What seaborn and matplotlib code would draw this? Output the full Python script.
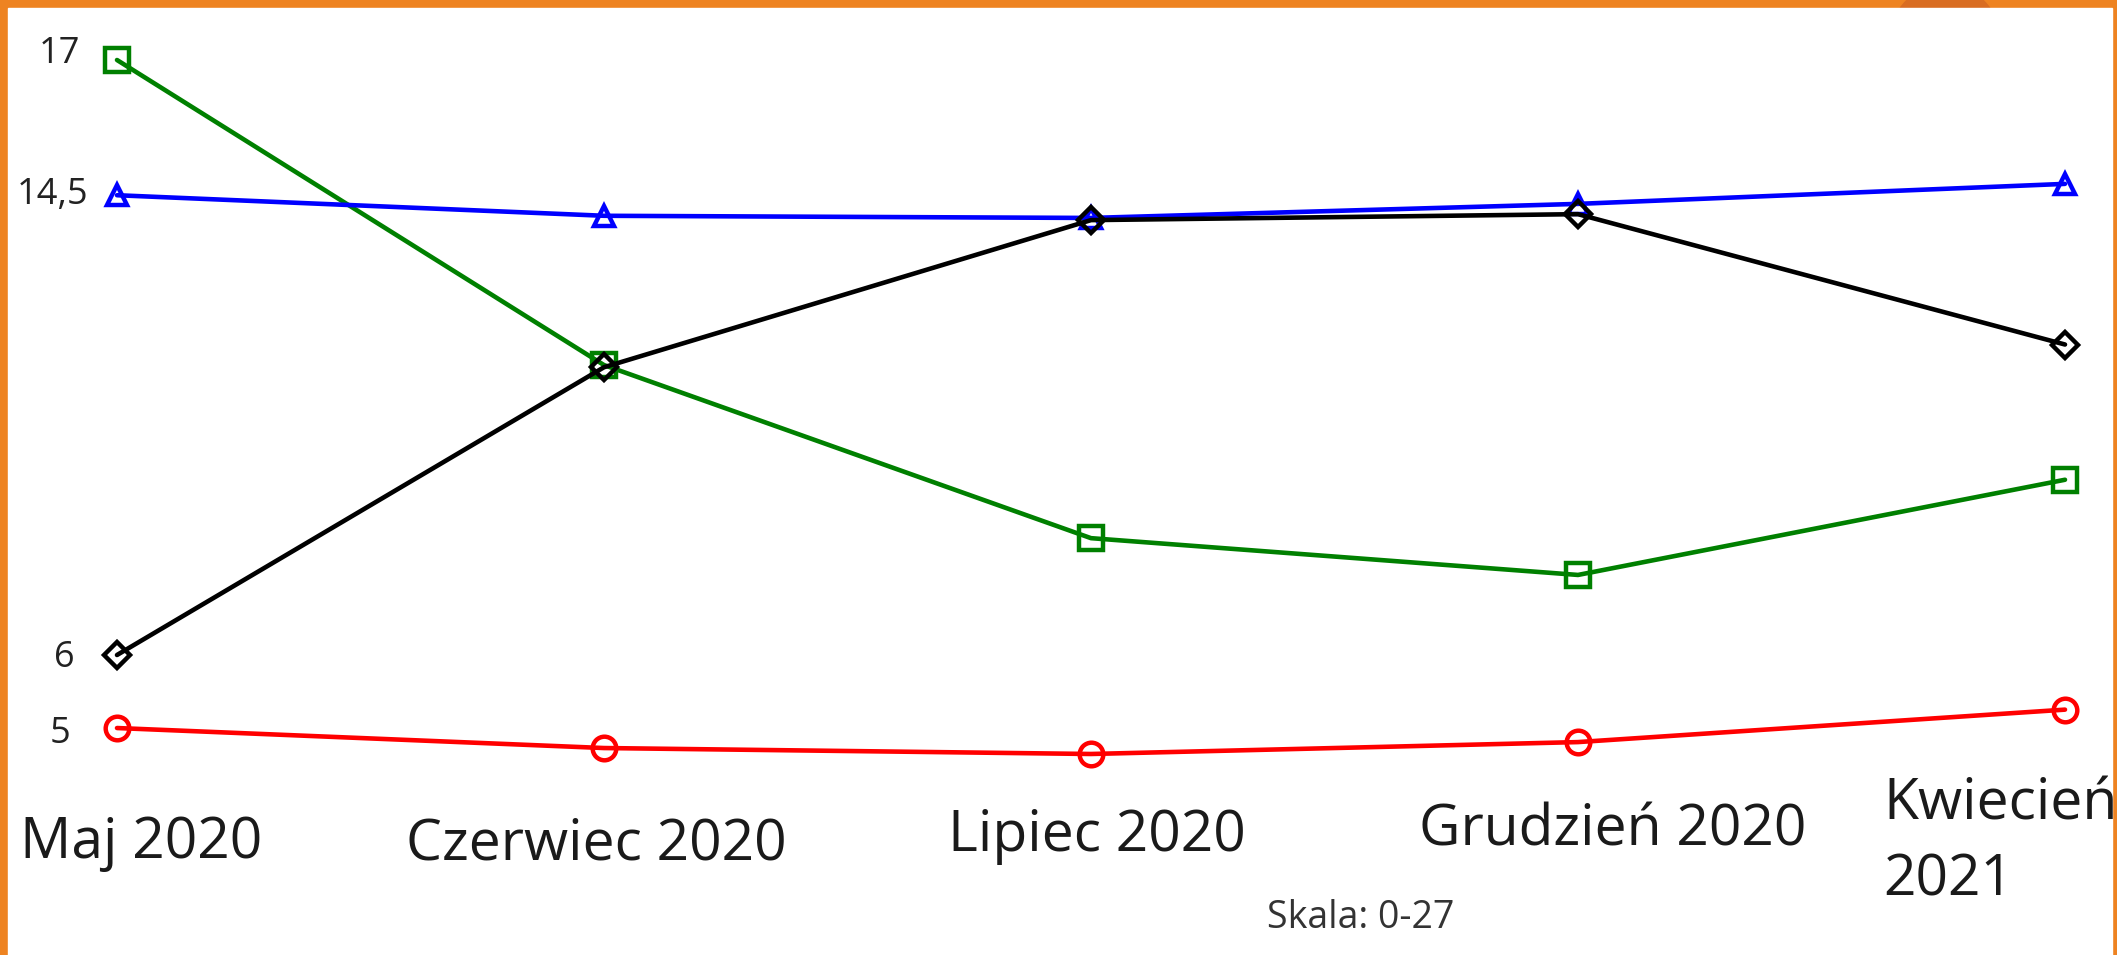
import pandas as pd
import seaborn as sns
import matplotlib.pyplot as plt
from matplotlib.patches import Rectangle, Ellipse

# Data
months = ['Maj 2020', 'Czerwiec 2020', 'Lipiec 2020', 'Grudzień 2020', 'Kwiecień\n2021']
green_vals = [17, 11.36, 8.16, 7.48, 9.24]
blue_vals = [14.5, 14.12, 14.08, 14.34, 14.71]
black_vals = [6, 11.32, 14.04, 14.15, 11.74]
red_vals = [4.65, 4.28, 4.17, 4.39, 4.99]
first_labels = ['17', '14,5', '6', '5']
scale_note = 'Skala: 0-27'

W, H = 2117, 955
sns.set_style('white')
plt.rcParams['font.family'] = ['Open Sans', 'DejaVu Sans']

fig = plt.figure(figsize=(W / 100, H / 100), dpi=100)
fig.patch.set_facecolor('#EE8321')

# orange frame with a darker blob peeking out at the top
fig.add_artist(Ellipse((1945 / W, 1 - 40 / H), 110 / W, 110 / H,
                       transform=fig.transFigure, color='#D96D22', zorder=-3))
fig.add_artist(Rectangle((8 / W, 0), (2112 - 8) / W, (H - 8) / H,
                         transform=fig.transFigure, color='white', zorder=-2))

ax = fig.add_axes([0, 0, 1, 1])
ax.patch.set_alpha(0)
ax.set_axis_off()

x = list(range(len(months)))
series = [
    (green_vals, 'green', 's', 17),
    (blue_vals, 'blue', '^', 15),
    (black_vals, 'black', 'D', 13),
    (red_vals, 'red', 'o', 17),
]
for vals, col, mk, ms in series:
    sns.lineplot(x=x, y=vals, color=col, marker=mk, markersize=ms,
                 mfc='none', mec=col, mew=3.2, lw=3.3, ax=ax, clip_on=False)

# first-point value labels
offsets = [(-37, 6), (-29, 0), (-42, -3), (-47, -6)]
for vals, lab, off in zip([green_vals, blue_vals, black_vals, red_vals], first_labels, offsets):
    ax.annotate(lab, xy=(0, vals[0]), xytext=off, textcoords='offset pixels',
                ha='right', va='center', fontsize=26, color='#222222')

# x range: point 0 at 117px, point 4 at 2065px; y: 17 at 60px, 6 at 655px
step = (2065 - 117) / 4
ax.set_xlim(-117 / step, (W - 117) / step)
ppu = (655 - 60) / 11
ax.set_ylim(17 - (H - 60) / ppu, 17 + 60 / ppu)

# month labels placed as in the original (baseline of the last line)
label_pos = [(20, 858), (406, 860), (948, 851), (1419, 845), (1883, 895)]
for lab, (px, py) in zip(months, label_pos):
    fig.text(px / W, 1 - py / H, lab, ha='left', va='baseline', fontsize=41,
             color='#1a1a1a', linespacing=1.42)

fig.text(1361 / W, 1 - 918 / H, scale_note, ha='center', va='center',
         fontsize=27, color='#333333')

fig.savefig('out.png', dpi=100, facecolor=fig.get_facecolor())
